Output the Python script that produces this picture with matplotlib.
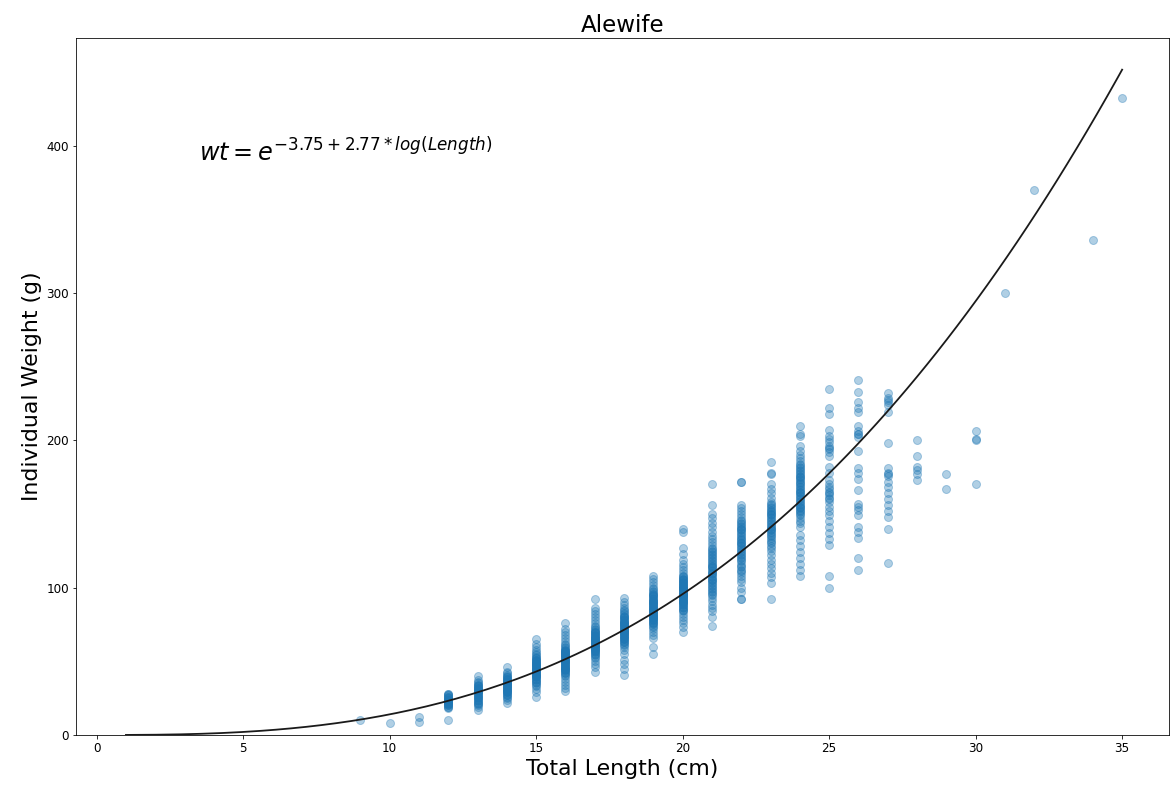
import numpy as np
import matplotlib as mpl; mpl.use("Agg"); import matplotlib.pyplot as plt

# weights (g) read per total length (cm)
w09 = [10]
w10 = [8]
w11 = [9, 12]
w12 = [10, 18, 19, 20, 21, 22, 23, 24, 25, 26, 27, 28, 19, 20, 21, 22, 23, 24, 25, 26, 27, 28, 22, 24]
w13 = [17, 19, 20, 21, 22, 23, 24, 25, 26, 27, 28, 29, 30, 31, 32, 33, 34, 35, 36, 37, 40,
       22, 24, 26, 28, 29, 30, 31, 32, 33, 34, 26, 30]
w14 = [22, 24, 25, 26, 27, 28, 29, 30, 31, 32, 33, 34, 35, 36, 37, 38, 39, 40, 41, 42, 43, 46,
       27, 29, 30, 31, 32, 33, 34, 35, 36, 37, 38, 39, 30, 33, 36]
w15 = [26, 29, 31, 33, 34, 35, 36, 37, 38, 39, 40, 41, 42, 43, 44, 45, 46, 47, 48, 49, 50, 51,
       52, 53, 54, 55, 56, 58, 60, 62, 65, 36, 38, 40, 41, 42, 43, 44, 45, 46, 47, 48, 49, 50,
       51, 52, 40, 44, 48]
w16 = [30, 32, 34, 36, 38, 40, 41, 42, 43, 44, 45, 46, 47, 48, 49, 50, 51, 52, 53, 54, 55, 56,
       57, 58, 59, 60, 61, 62, 64, 66, 68, 70, 72, 76, 42, 44, 45, 46, 47, 48, 49, 50, 51, 52,
       53, 54, 55, 56, 57, 58, 45, 50, 55]
w17 = [43, 46, 48, 50, 52, 53, 54, 55, 56, 57, 58, 59, 60, 61, 62, 63, 64, 65, 66, 67, 68, 69,
       70, 71, 72, 73, 74, 76, 78, 80, 82, 84, 86, 92, 55, 57, 58, 59, 60, 61, 62, 63, 64, 65,
       66, 67, 68, 70, 60, 65, 70]
w18 = [41, 45, 48, 51, 55, 58, 60, 61, 62, 63, 64, 65, 66, 67, 68, 69, 70, 71, 72, 73, 74, 75,
       76, 77, 78, 79, 80, 81, 82, 83, 84, 85, 86, 88, 90, 93, 63, 65, 66, 67, 68, 69, 70, 71,
       72, 73, 74, 75, 76, 77, 78, 80, 70, 75, 80]
w19 = [55, 60, 66, 68, 70, 72, 73, 74, 75, 76, 77, 78, 79, 80, 81, 82, 83, 84, 85, 86, 87, 88,
       89, 90, 91, 92, 93, 94, 95, 96, 97, 98, 99, 100, 102, 104, 106, 108, 76, 78, 79, 80, 81,
       82, 83, 84, 85, 86, 87, 88, 89, 90, 91, 92, 94, 96, 80, 85, 90]
w20 = [70, 73, 76, 78, 80, 82, 84, 85, 86, 87, 88, 89, 90, 91, 92, 93, 94, 95, 96, 97, 98, 99,
       100, 101, 102, 103, 104, 105, 106, 107, 108, 110, 112, 114, 116, 119, 123, 127, 138, 140,
       85, 87, 89, 90, 91, 92, 93, 94, 95, 96, 97, 98, 99, 100, 101, 102, 103, 104, 106, 108,
       90, 95, 100, 105]
w21 = [74, 80, 84, 86, 88, 91, 93, 95, 97, 99, 101, 103, 105, 107, 109, 111, 113, 115, 117,
       119, 121, 123, 125, 127, 129, 131, 133, 135, 138, 141, 144, 147, 150, 156, 170,
       96, 98, 100, 102, 104, 106, 108, 110, 112, 114, 116, 118, 120, 122, 124, 126, 105, 110, 115]
w22 = [92, 92, 97, 100, 104, 106, 108, 110, 112, 114, 116, 118, 120, 122, 124, 126, 128, 130,
       132, 134, 136, 138, 140, 142, 144, 146, 148, 150, 152, 154, 156, 172, 172,
       111, 115, 119, 121, 123, 125, 127, 129, 131, 133, 135, 137, 139, 141, 143, 145, 130, 140]
w23 = [92, 103, 107, 110, 113, 116, 119, 122, 125, 128, 130, 132, 134, 136, 138, 140, 142, 144,
       146, 148, 150, 152, 154, 156, 158, 161, 164, 167, 170, 177, 178, 185,
       127, 131, 135, 137, 139, 141, 143, 145, 147, 149, 151, 153, 155, 157, 140, 150]
w24 = [108, 112, 116, 120, 124, 128, 132, 136, 141, 144, 147, 150, 152, 154, 156, 158, 160, 162,
       164, 166, 168, 170, 172, 174, 176, 178, 180, 182, 184, 186, 188, 190, 193, 196, 203, 204,
       210, 145, 149, 151, 153, 155, 157, 159, 161, 163, 165, 167, 169, 171, 173, 175, 177, 179,
       181, 183, 155, 165, 175]
w25 = [100, 108, 129, 133, 137, 141, 145, 149, 152, 155, 158, 161, 164, 167, 170, 173, 178, 182,
       189, 192, 195, 199, 203, 207, 218, 222, 235, 160, 163, 165, 168, 194, 196, 201]
w26 = [112, 120, 134, 138, 141, 149, 153, 157, 166, 174, 178, 181, 193, 202, 204, 206, 210,
       219, 222, 226, 233, 241, 204, 155]
w27 = [117, 140, 148, 152, 156, 160, 164, 168, 172, 176, 178, 181, 198, 219, 224, 227, 229, 232,
       177, 226]
w28 = [173, 177, 180, 182, 189, 200]
w29 = [167, 177]
w30 = [170, 200, 201, 206]
w31 = [300]
w32 = [370]
w34 = [336]
w35 = [432]

# fitted length-weight model shown on the chart
a_coef, b_coef = -3.75, 2.774
len_min, len_max = 1, 35

groups = [(9, w09), (10, w10), (11, w11), (12, w12), (13, w13), (14, w14), (15, w15),
          (16, w16), (17, w17), (18, w18), (19, w19), (20, w20), (21, w21), (22, w22),
          (23, w23), (24, w24), (25, w25), (26, w26), (27, w27), (28, w28), (29, w29),
          (30, w30), (31, w31), (32, w32), (34, w34), (35, w35)]
length = np.concatenate([[L] * len(w) for L, w in groups])
weight = np.concatenate([w for _, w in groups])

fig = plt.figure(figsize=(1171 / 72, 788 / 72), dpi=72)
ax = fig.add_axes([0.065, 0.0673, 0.9333, 0.8845])
ax.scatter(length, weight, s=64, color="#1f77b4", alpha=0.35, linewidths=1)
xs = np.linspace(len_min, len_max, 200)
ax.plot(xs, np.exp(a_coef + b_coef * np.log(xs)), color="#1a1a1a", lw=1.8)
ax.set_ylim(0, 473)
ax.set_xlim(-0.7, 36.6)
ax.text(3.5, 389, r"$wt = e^{-3.75 + 2.77*log(Length)}$", fontsize=24)
ax.set_title("Alewife", fontsize=23)
ax.set_xlabel("Total Length (cm)", fontsize=22)
ax.set_ylabel("Individual Weight (g)", fontsize=22)
ax.set_yticks([0, 100, 200, 300, 400])
ax.tick_params(labelsize=12)
fig.savefig("out.png", dpi=72)
